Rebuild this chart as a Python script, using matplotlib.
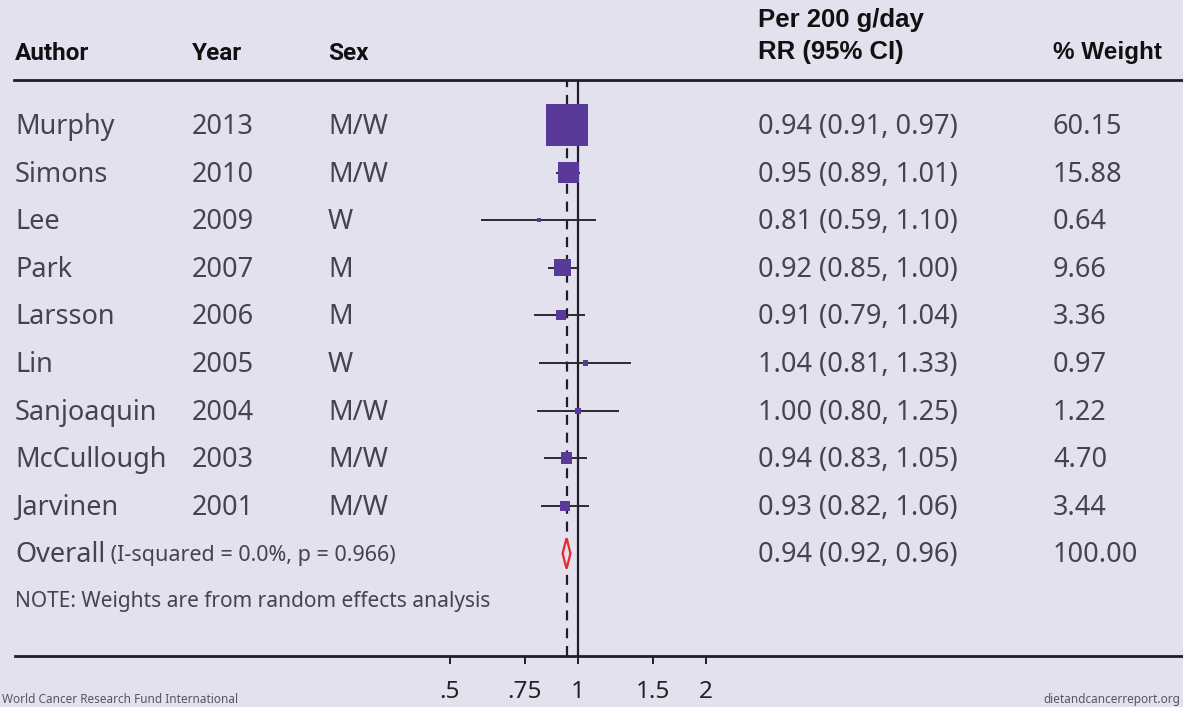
import numpy as np
import matplotlib.pyplot as plt

authors = ["Murphy", "Simons", "Lee", "Park", "Larsson", "Lin", "Sanjoaquin", "McCullough", "Jarvinen"]
years = ["2013", "2010", "2009", "2007", "2006", "2005", "2004", "2003", "2001"]
sexes = ["M/W", "M/W", "W", "M", "M", "W", "M/W", "M/W", "M/W"]
rr = [0.94, 0.95, 0.81, 0.92, 0.91, 1.04, 1.00, 0.94, 0.93]
lo = [0.91, 0.89, 0.59, 0.85, 0.79, 0.81, 0.80, 0.83, 0.82]
hi = [0.97, 1.01, 1.10, 1.00, 1.04, 1.33, 1.25, 1.05, 1.06]
weights = [60.15, 15.88, 0.64, 9.66, 3.36, 0.97, 1.22, 4.70, 3.44]
overall = (0.94, 0.92, 0.96)
overall_weight = 100.00
tick_vals = [0.5, 0.75, 1, 1.5, 2]
tick_labels = [".5", ".75", "1", "1.5", "2"]

W, H = 1183, 707
BG = "#e4e1ef"
PURPLE = "#5a3a98"
TXT = "#44444c"

fig = plt.figure(figsize=(W / 100, H / 100), dpi=100, facecolor=BG)

# pixel-space layer for the table text and rules
bg = fig.add_axes([0, 0, 1, 1])
bg.set_xlim(0, W)
bg.set_ylim(H, 0)
bg.axis("off")

top_rule, bottom_rule = 80, 656
row0, step = 125, 47.6

bg.plot([14, W], [top_rule, top_rule], color="#1e1e28", lw=2)
bg.plot([15, W], [bottom_rule, bottom_rule], color="#1e1e28", lw=2)

hdr = dict(color="#111111", fontweight="bold", va="center")
narrow = ["Roboto", "DejaVu Sans"]
wide = ["Liberation Sans", "DejaVu Sans"]
bg.text(15, 53, "Author", fontsize=17.5, family=narrow, **hdr)
bg.text(192, 53, "Year", fontsize=17.5, family=narrow, **hdr)
bg.text(328, 53, "Sex", fontsize=17.5, family=narrow, **hdr)
bg.text(758, 20, "Per 200 g/day", fontsize=18.5, family=wide, **hdr)
bg.text(758, 52, "RR (95% CI)", fontsize=18.5, family=wide, **hdr)
bg.text(1053, 52, "% Weight", fontsize=17.5, family=wide, **hdr)

body = dict(color=TXT, va="center", family="Noto Sans", fontsize=19.5)
for i in range(len(authors)):
    y = row0 + step * i + 2
    bg.text(15, y, authors[i], **body)
    bg.text(192, y, years[i], **body)
    bg.text(328, y, sexes[i], **body)
    bg.text(758, y, f"{rr[i]:.2f} ({lo[i]:.2f}, {hi[i]:.2f})", **body)
    bg.text(1053, y, f"{weights[i]:.2f}", **body)

yo = row0 + step * len(authors) + 2
t = bg.text(15, yo, "Overall", **body)
bg.annotate(" (I-squared = 0.0%, p = 0.966)", xycoords=t, xy=(1, 0.5),
            va="center", color=TXT, family="Noto Sans", fontsize=15.5)
bg.text(758, yo, f"{overall[0]:.2f} ({overall[1]:.2f}, {overall[2]:.2f})", **body)
bg.text(1053, yo, f"{overall_weight:.2f}", **body)
bg.text(15, yo + 46, "NOTE: Weights are from random effects analysis",
        color=TXT, va="center", family="Noto Sans", fontsize=15)

bg.text(2, 706, "World Cancer Research Fund International", color="#555560",
        va="bottom", family="Noto Sans", fontsize=8.5)
bg.text(1180, 706, "dietandcancerreport.org", color="#555560",
        va="bottom", ha="right", family="Noto Sans", fontsize=8.5)

# forest panel on a log scale: RR=1 sits at x=578 px, 184.7 px per ln unit
x0, x1 = 380, 780
ax = fig.add_axes([x0 / W, (H - bottom_rule) / H, (x1 - x0) / W, (bottom_rule - top_rule) / H])
ax.patch.set_alpha(0)
ax.set_xscale("log")
ax.set_xlim(np.exp((x0 - 578) / 184.7), np.exp((x1 - 578) / 184.7))
ax.set_ylim((bottom_rule - row0) / step, (top_rule - row0) / step)
for s in ax.spines.values():
    s.set_visible(False)
ax.set_yticks([])
ax.set_xticks(tick_vals)
ax.set_xticklabels(tick_labels)
ax.minorticks_off()
ax.tick_params(axis="x", direction="out", length=6, width=1.4, color="#1e1e28",
               pad=11, labelsize=17.5, labelcolor="#222222")
for lab in ax.get_xticklabels():
    lab.set_family("Noto Sans")

ax.axvline(1, color="#1e1e28", lw=1.6)
ax.axvline(overall[0], color="#1e1e28", lw=1.6, ls=(0, (4.5, 3.5)))

idx = np.arange(len(authors))
ax.hlines(idx, lo, hi, color="#2a2a30", lw=1.4, zorder=3)
side_pt = 3.9 * np.sqrt(np.array(weights))
ax.scatter(rr, idx, marker="s", s=side_pt ** 2, color=PURPLE, linewidths=0, zorder=4)

ov_i = len(authors)
dx = [overall[1], overall[0], overall[2], overall[0], overall[1]]
dy = [ov_i, ov_i - 0.32, ov_i, ov_i + 0.32, ov_i]
ax.fill(dx, dy, facecolor=BG, edgecolor="#e8282b", lw=1.6, zorder=4)

fig.savefig("out.png", dpi=100, facecolor=BG)
